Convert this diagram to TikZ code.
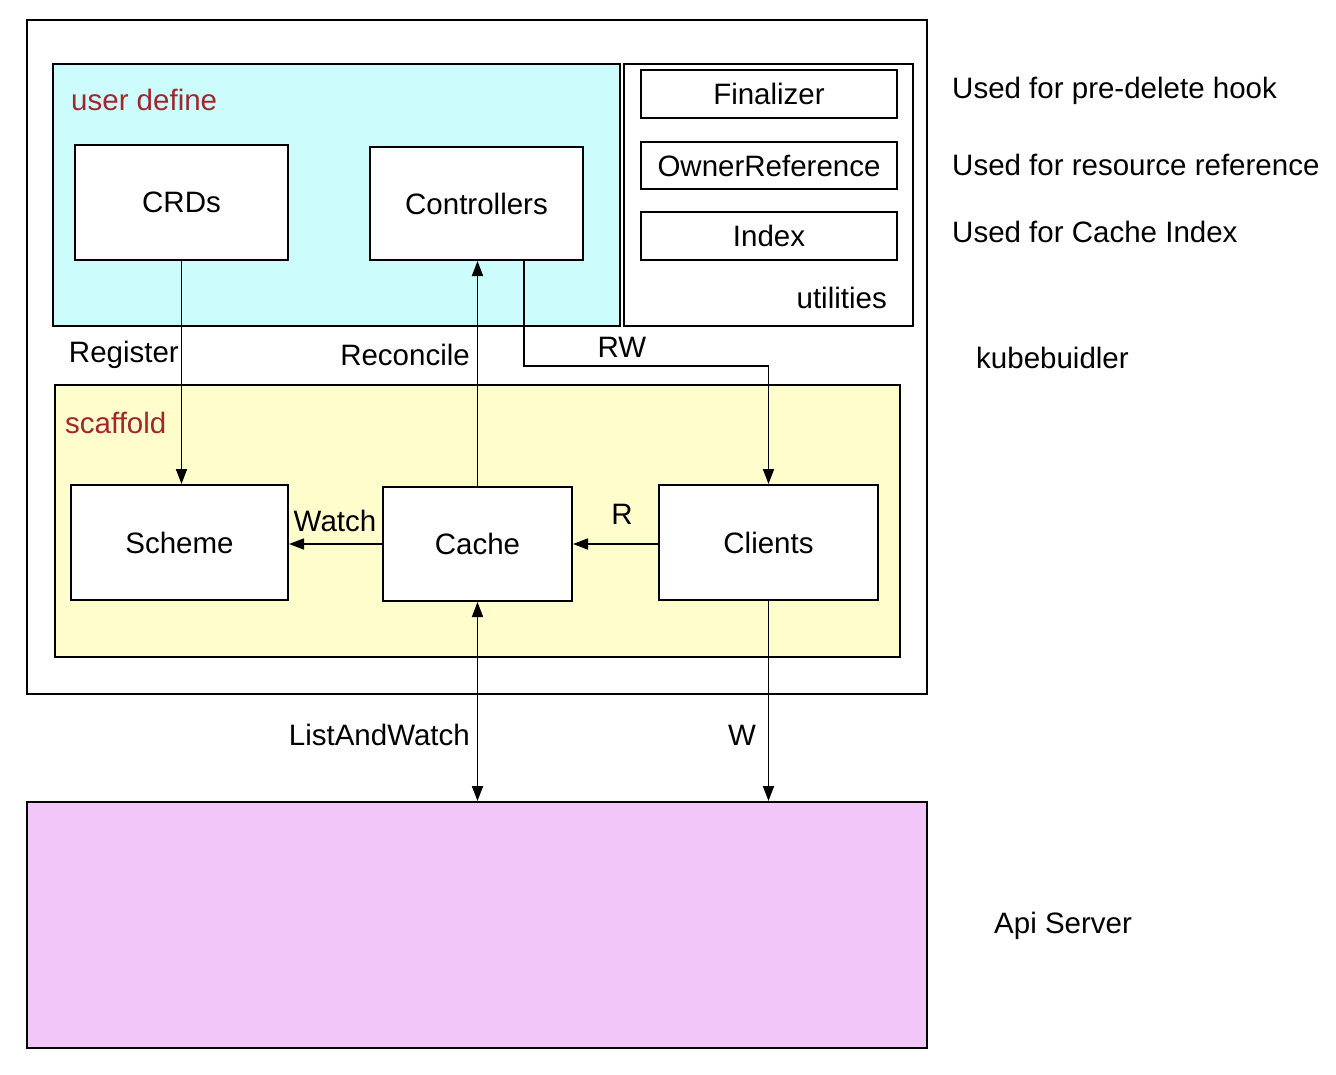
\documentclass[tikz,border=0pt]{standalone}
\usepackage{fontspec}
\setmainfont{Liberation Sans}
\usetikzlibrary{arrows.meta}
\definecolor{userfill}{HTML}{CCFCFC}
\definecolor{scaffoldfill}{HTML}{FFFDCC}
\definecolor{apifill}{HTML}{F3C6FA}
\definecolor{grouptitle}{HTML}{A3262E}
\begin{document}
\begin{tikzpicture}[x=1pt, y=-1pt,
  font=\fontsize{29.5}{34}\selectfont,
  container/.style={draw=black, line width=2pt, inner sep=0pt},
  box/.style={draw=black, line width=2pt, fill=white, inner sep=0pt},
  tip/.style={},
  link/.style={line width=1.7pt, -{Triangle[length=15pt,width=11pt]}},
  twoway/.style={line width=1.7pt, {Triangle[length=15pt,width=11pt]}-{Triangle[length=15pt,width=11pt]}},
  tag/.style={inner sep=0pt},
  title/.style={inner sep=0pt, text=grouptitle}]
\useasboundingbox (0,0) rectangle (1336,1074);
\fill[white] (0,0) rectangle (1336,1074);

% containers
\node[container, minimum width=900pt, minimum height=674pt] (kube) at (477,357) {};
\node[container, fill=userfill, minimum width=567pt, minimum height=262pt] (user) at (336.5,195) {};
\node[container, fill=white, minimum width=289pt, minimum height=262pt] (util) at (768.5,195) {};
\node[container, fill=scaffoldfill, minimum width=845pt, minimum height=272pt] (scaffold) at (477.5,521) {};
\node[container, fill=apifill, minimum width=900pt, minimum height=246pt] (api) at (477,925) {};

% utilities
\node[box, minimum width=256pt, minimum height=48pt] (fin) at (769,94) {Finalizer};
\node[box, minimum width=256pt, minimum height=47pt] (owner) at (769,165.5) {OwnerReference};
\node[box, minimum width=256pt, minimum height=48pt] (index) at (769,236) {Index};
\node[tag, anchor=east] (utiltitle) at (887,298) {utilities};

% user defined parts
\node[title, anchor=west] (usertitle) at (71,100) {user define};
\node[box, minimum width=213pt, minimum height=115pt] (crds) at (181.5,202.5) {CRDs};
\node[box, minimum width=213pt, minimum height=113pt] (ctrl) at (476.5,203.5) {Controllers};

% scaffold parts
\node[title, anchor=west] (scaffoldtitle) at (65,423) {scaffold};
\node[box, minimum width=217pt, minimum height=115pt] (scheme) at (179.5,542.5) {Scheme};
\node[box, minimum width=189pt, minimum height=114pt] (cache) at (477.5,544) {Cache};
\node[box, minimum width=219pt, minimum height=115pt] (clients) at (768.5,542.5) {Clients};

% connectors
\draw[link] (crds.south) -- (crds.south |- scheme.north);
\draw[link] (cache.north) -- (cache.north |- ctrl.south);
\draw[link] ([xshift=47.5pt]ctrl.south) -- ++(0,105) -| (clients.north);
\draw[link] (cache.west) -- (cache.west -| scheme.east);
\draw[link] (cache.east -| clients.west) -- (cache.east);
\draw[twoway] (cache.south) -- (cache.south |- api.north);
\draw[link] (clients.south) -- (clients.south |- api.north);

% connector labels
\node[tag, anchor=east] (lregister) at (179,355) {Register};
\node[tag, anchor=east] (lreconcile) at (470,355) {Reconcile};
\node[tag] (lrw) at (622,347) {RW};
\node[tag] (lwatch) at (335,521) {Watch};
\node[tag] (lr) at (622,514) {R};
\node[tag, anchor=east] (llist) at (470,735) {ListAndWatch};
\node[tag] (lw) at (742,735) {W};

% notes on the right
\node[tag, anchor=west] (nfin) at (952,91) {Used for pre-delete hook};
\node[tag, anchor=west] (nowner) at (952,165) {Used for resource reference};
\node[tag, anchor=west] (nindex) at (952,232) {Used for Cache Index};
\node[tag, anchor=west] (nkube) at (976,358) {kubebuidler};
\node[tag, anchor=west] (napi) at (994,926) {Api Server};
\end{tikzpicture}
\end{document}
